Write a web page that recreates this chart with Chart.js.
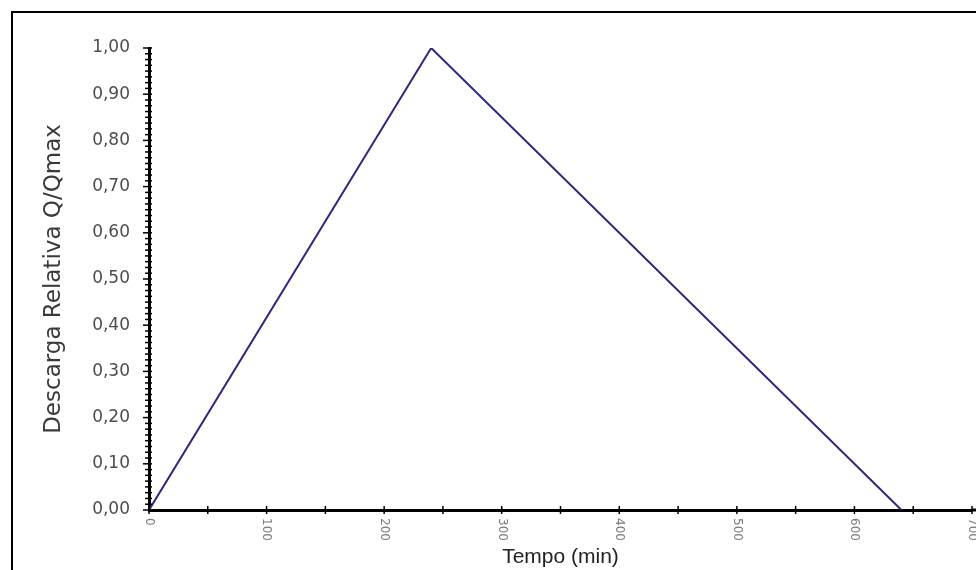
<!DOCTYPE html>
<html>
<head>
<meta charset="utf-8">
<script src="https://cdn.jsdelivr.net/npm/chart.js@4/dist/chart.umd.min.js"></script>
<style>
  html, body { margin: 0; padding: 0; background: #fff; }
  #wrap { width: 976px; height: 570px; position: relative; }
</style>
</head>
<body>
<div id="wrap"><canvas id="hidro"></canvas></div>
<script>
// Hidrograma unitário triangular
const tempo = [0, 240, 640];
const descarga = [0, 1.0, 0];
const xTicks = [0, 100, 200, 300, 400, 500, 600, 700];

const LINE_COLOR = '#2d2a7e';
const AXIS_COLOR = '#000';
const FONT = '"DejaVu Sans", Verdana, sans-serif';

// moldura, marcas secundárias e rótulos do eixo x
const decor = {
  id: 'decor',
  beforeDraw(chart) {
    const { ctx } = chart;
    ctx.save();
    ctx.fillStyle = '#fff';
    ctx.fillRect(0, 0, chart.width, chart.height);
    ctx.strokeStyle = '#000';
    ctx.lineWidth = 2;
    ctx.beginPath();
    ctx.moveTo(12, chart.height);
    ctx.lineTo(12, 12);
    ctx.lineTo(chart.width, 12);
    ctx.stroke();
    ctx.restore();
  },
  afterDraw(chart) {
    const { ctx, scales: { x, y } } = chart;
    const x0 = x.getPixelForValue(0);
    const y0 = y.getPixelForValue(0);
    ctx.save();
    ctx.strokeStyle = AXIS_COLOR;
    ctx.lineWidth = 1.5;
    // marcas do eixo y
    for (let i = 0; i <= 80; i++) {
      const py = y.getPixelForValue(i / 80);
      const major = i % 8 === 0;
      ctx.beginPath();
      ctx.moveTo(x0 - (major ? 6 : 4), py);
      ctx.lineTo(x0 + 3, py);
      ctx.stroke();
    }
    // marcas do eixo x
    for (let v = 0; v <= 700; v += 50) {
      const px = x.getPixelForValue(v);
      ctx.beginPath();
      ctx.moveTo(px, y0 - 4);
      ctx.lineTo(px, y0 + 4);
      ctx.stroke();
    }
    // prolonga o eixo x até a borda
    ctx.lineWidth = 3;
    ctx.beginPath();
    ctx.moveTo(x.right, y0);
    ctx.lineTo(chart.width, y0);
    ctx.stroke();
    // rótulos verticais do eixo x
    ctx.fillStyle = '#7a7a7a';
    ctx.font = '12px ' + FONT;
    ctx.textAlign = 'left';
    ctx.textBaseline = 'middle';
    xTicks.forEach((v) => {
      ctx.save();
      ctx.translate(x.getPixelForValue(v), y0 + 8);
      ctx.rotate(Math.PI / 2);
      ctx.fillText(String(v), 0, 0);
      ctx.restore();
    });
    ctx.restore();
  },
};

new Chart(document.getElementById('hidro'), {
  type: 'line',
  data: {
    datasets: [
      {
        data: tempo.map((t, i) => ({ x: t, y: descarga[i] })),
        borderColor: LINE_COLOR,
        borderWidth: 2,
        pointRadius: 0,
        tension: 0,
        fill: false,
      },
    ],
  },
  options: {
    responsive: true,
    maintainAspectRatio: false,
    animation: false,
    events: [],
    layout: { padding: { left: 14, right: 4, top: 48, bottom: 0 } },
    plugins: {
      legend: { display: false },
      tooltip: { enabled: false },
    },
    scales: {
      x: {
        type: 'linear',
        min: 0,
        max: 700,
        grid: { display: false, drawTicks: false },
        border: { color: AXIS_COLOR, width: 3 },
        ticks: { display: false, stepSize: 100 },
        title: {
          display: true,
          text: 'Tempo (min)',
          color: '#222',
          font: { family: '"Liberation Sans", Arial, sans-serif', size: 21 },
          padding: { top: 0, bottom: 0 },
        },
        afterFit: (scale) => { scale.height = 60; },
      },
      y: {
        min: 0,
        max: 1,
        grid: { display: false, drawTicks: false },
        border: { color: AXIS_COLOR, width: 3 },
        ticks: {
          stepSize: 0.1,
          padding: 19,
          color: '#4d4d4d',
          font: { family: FONT, size: 17 },
          callback: (v) => Number(v).toFixed(2).replace('.', ','),
        },
        title: {
          display: true,
          text: 'Descarga Relativa Q/Qmax',
          color: '#3a3a3a',
          font: { family: FONT, size: 23 },
          padding: { top: 26, bottom: 0 },
        },
        afterFit: (scale) => { scale.width = 135; },
      },
    },
  },
  plugins: [decor],
});
</script>
</body>
</html>
